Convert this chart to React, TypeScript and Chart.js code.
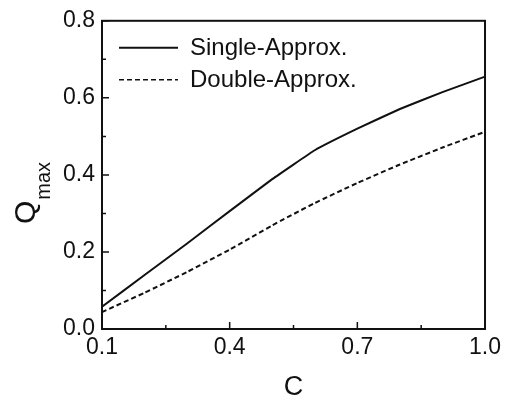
import React, { useEffect, useRef } from "react";
import { Chart, registerables } from "chart.js";

Chart.register(...registerables);

const cValues = [0.1, 0.2, 0.3, 0.4, 0.5, 0.6, 0.7, 0.8, 0.9, 1.0];
const singleApprox = [0.058, 0.140, 0.222, 0.306, 0.389, 0.464, 0.520, 0.571, 0.615, 0.655];
const doubleApprox = [0.044, 0.094, 0.148, 0.206, 0.269, 0.327, 0.379, 0.427, 0.471, 0.512];
const xTicks = [0.1, 0.4, 0.7, 1.0];
const xMinorTicks = [0.25, 0.55, 0.85];
const yTicks = [0.0, 0.2, 0.4, 0.6, 0.8];
const yMinorTicks = [0.1, 0.3, 0.5, 0.7];
const seriesNames = ["Single-Approx.", "Double-Approx."];

const FONT = "'Liberation Sans', Arial, Helvetica, sans-serif";
const INK = "#111";

const framePlugin = {
  id: "frame",
  afterDraw(chart: any) {
    const ctx = chart.ctx as CanvasRenderingContext2D;
    const { left, right, top, bottom } = chart.chartArea;
    const xs = chart.scales.x;
    const ys = chart.scales.y;
    ctx.save();
    ctx.strokeStyle = INK;
    ctx.lineWidth = 2;
    ctx.strokeRect(left, top, right - left, bottom - top);
    ctx.lineWidth = 1.5;
    const major = 7;
    const minor = 4;
    ctx.beginPath();
    xTicks.forEach((v) => {
      const p = xs.getPixelForValue(v);
      ctx.moveTo(p, bottom);
      ctx.lineTo(p, bottom - major);
    });
    xMinorTicks.forEach((v) => {
      const p = xs.getPixelForValue(v);
      ctx.moveTo(p, bottom);
      ctx.lineTo(p, bottom - minor);
    });
    yTicks.forEach((v) => {
      const p = ys.getPixelForValue(v);
      ctx.moveTo(left, p);
      ctx.lineTo(left + major, p);
    });
    yMinorTicks.forEach((v) => {
      const p = ys.getPixelForValue(v);
      ctx.moveTo(left, p);
      ctx.lineTo(left + minor, p);
    });
    ctx.stroke();

    // legend
    const ds = chart.data.datasets;
    const legY = [top + 27, top + 59];
    ds.forEach((d: any, i: number) => {
      ctx.beginPath();
      ctx.strokeStyle = d.borderColor;
      ctx.lineWidth = i === 0 ? 2 : 1.5;
      ctx.setLineDash(d.borderDash || []);
      ctx.moveTo(left + 17, legY[i]);
      ctx.lineTo(left + 76, legY[i]);
      ctx.stroke();
      ctx.setLineDash([]);
      ctx.fillStyle = INK;
      ctx.font = `24px ${FONT}`;
      ctx.textBaseline = "middle";
      ctx.textAlign = "left";
      ctx.fillText(d.label, left + 88, legY[i] + 1);
    });

    // x title
    ctx.fillStyle = INK;
    ctx.font = `27px ${FONT}`;
    ctx.textAlign = "center";
    ctx.textBaseline = "alphabetic";
    ctx.fillText("C", (left + right) / 2, 395);

    // y title with subscript
    ctx.save();
    ctx.translate(35, 224);
    ctx.rotate(-Math.PI / 2);
    ctx.textAlign = "left";
    ctx.font = `30px ${FONT}`;
    ctx.fillText("Q", 0, 0);
    const qw = ctx.measureText("Q").width;
    ctx.font = `20px ${FONT}`;
    ctx.fillText("max", qw + 1, 15);
    ctx.restore();
    ctx.restore();
  },
};

export default function App() {
  const ref = useRef<HTMLCanvasElement | null>(null);
  useEffect(() => {
    document.body.style.margin = "0";
    if (!ref.current) return;
    const chart = new Chart(ref.current, {
      type: "line",
      data: {
        labels: cValues,
        datasets: [
          {
            label: seriesNames[0],
            data: cValues.map((c, i) => ({ x: c, y: singleApprox[i] })),
            borderColor: INK,
            borderWidth: 2,
            pointRadius: 0,
            fill: false,
            tension: 0.1,
          },
          {
            label: seriesNames[1],
            data: cValues.map((c, i) => ({ x: c, y: doubleApprox[i] })),
            borderColor: INK,
            borderWidth: 2,
            borderDash: [5, 3],
            pointRadius: 0,
            fill: false,
            tension: 0.1,
          },
        ],
      },
      options: {
        responsive: false,
        animation: false,
        layout: { padding: { top: 16, right: 19, left: 0, bottom: 0 } },
        plugins: { legend: { display: false }, tooltip: { enabled: false } },
        scales: {
          x: {
            type: "linear",
            min: 0.1,
            max: 1.0,
            afterBuildTicks: (s: any) => {
              s.ticks = xTicks.map((v) => ({ value: v }));
            },
            afterFit: (s: any) => {
              s.height = 75;
            },
            grid: { display: false, drawTicks: false },
            border: { display: false },
            ticks: {
              padding: 5,
              color: INK,
              font: { family: FONT, size: 23 },
              maxRotation: 0,
              autoSkip: false,
              callback: (v: any) => Number(v).toFixed(1),
            },
          },
          y: {
            type: "linear",
            min: 0,
            max: 0.8,
            afterBuildTicks: (s: any) => {
              s.ticks = yTicks.map((v) => ({ value: v }));
            },
            afterFit: (s: any) => {
              s.width = 102;
            },
            grid: { display: false, drawTicks: false },
            border: { display: false },
            ticks: {
              padding: 7,
              color: INK,
              font: { family: FONT, size: 23 },
              autoSkip: false,
              callback: (v: any) => Number(v).toFixed(1),
            },
          },
        },
      },
      plugins: [framePlugin],
    });
    return () => chart.destroy();
  }, []);
  return (
    <div style={{ position: "absolute", left: 0, top: 0, width: 506, height: 404, background: "#fff" }}>
      <canvas ref={ref} width={506} height={404} />
    </div>
  );
}
